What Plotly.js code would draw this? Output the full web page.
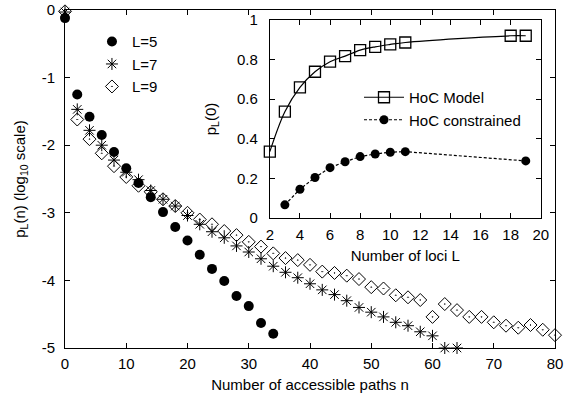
<!DOCTYPE html>
<html>
<head>
<meta charset="utf-8">
<script src="https://cdn.plot.ly/plotly-3.0.1.min.js"></script>
<style>html,body{margin:0;padding:0;background:#fff;}#chart{width:564px;height:397px;}</style>
</head>
<body>
<div id="chart"></div>
<script>
// Main plot: n (number of accessible paths) and log10 p_L(n)
const n5 = [0,2,4,6,8,10,12,14,16,18,20,22,24,26,28,30,32,34];
const p5 = [-0.12,-1.25,-1.58,-1.85,-2.10,-2.34,-2.56,-2.77,-2.99,-3.21,-3.41,-3.62,-3.83,-4.01,-4.23,-4.38,-4.63,-4.79];

const n7 = [0,2,4,6,8,10,12,14,16,18,20,22,24,26,28,30,32,34,36,38,40,42,44,46,48,50,52,54,56,58,60,62,64];
const p7 = [-0.03,-1.47,-1.78,-2.00,-2.22,-2.40,-2.51,-2.67,-2.80,-2.90,-3.04,-3.17,-3.28,-3.37,-3.49,-3.58,-3.68,-3.79,-3.88,-3.96,-4.05,-4.14,-4.21,-4.30,-4.40,-4.47,-4.54,-4.62,-4.67,-4.76,-4.82,-5.0,-5.0];

const n9 = [0,2,4,6,8,10,12,14,16,18,20,22,24,26,28,30,32,34,36,38,40,42,44,46,48,50,52,54,56,58,60,62,64,66,68,70,72,74,76,78,80];
const p9 = [-0.02,-1.62,-1.91,-2.12,-2.31,-2.47,-2.60,-2.69,-2.80,-2.90,-3.00,-3.10,-3.17,-3.27,-3.33,-3.43,-3.50,-3.60,-3.67,-3.70,-3.77,-3.87,-3.89,-3.93,-3.98,-4.10,-4.12,-4.22,-4.25,-4.29,-4.54,-4.35,-4.44,-4.54,-4.54,-4.62,-4.67,-4.70,-4.66,-4.73,-4.81];

// Inset: p_L(0) vs number of loci L
const lociModel = [2,3,4,5,6,7,8,9,10,11,18,19];
const pModel = [0.335,0.537,0.66,0.739,0.79,0.818,0.848,0.865,0.877,0.887,0.921,0.921];
const lociCons = [3,4,5,6,7,8,9,10,11,19];
const pCons = [0.066,0.145,0.204,0.254,0.284,0.31,0.323,0.332,0.335,0.288];

// Tick labels
const mainYTickVals = [-5,-4,-3,-2,-1,0];
const mainYTickText = ['-5','-4','-3','-2','-1','0'];
const insetYTickVals = [0,0.2,0.4,0.6,0.8,1];
const insetYTickText = ['0','0.2','0.4','0.6','0.8','1'];

const FONT = '"Liberation Sans", Arial, Helvetica, sans-serif';
const FS = 15;
const traces = [
  {x:n5, y:p5, name:'L=5', type:'scatter', mode:'markers', cliponaxis:false,
   marker:{symbol:'circle', size:10, color:'#000'}, xaxis:'x', yaxis:'y', legend:'legend'},
  {x:n7, y:p7, name:'L=7', type:'scatter', mode:'markers', cliponaxis:false,
   marker:{symbol:'asterisk-open', size:10, color:'#000', line:{color:'#000', width:1}}, xaxis:'x', yaxis:'y', legend:'legend'},
  {x:n9, y:p9, name:'L=9', type:'scatter', mode:'markers', cliponaxis:false,
   marker:{symbol:'diamond-open-dot', size:10, color:'#000', line:{color:'#000', width:1}}, xaxis:'x', yaxis:'y', legend:'legend'},
  {x:lociModel, y:pModel, name:'HoC Model', type:'scatter', mode:'lines+markers', cliponaxis:false,
   line:{color:'#000', width:1.2, shape:'spline'},
   marker:{symbol:'square-open', size:11, color:'#000', line:{color:'#000', width:1.3}}, xaxis:'x2', yaxis:'y2', legend:'legend2'},
  {x:lociCons, y:pCons, name:'HoC constrained', type:'scatter', mode:'lines+markers', cliponaxis:false,
   line:{color:'#000', width:1.2, dash:'3px,2px'},
   marker:{symbol:'circle', size:9, color:'#000'}, xaxis:'x2', yaxis:'y2', legend:'legend2'}
];

const axBase = {showline:true, linecolor:'#000', linewidth:1, mirror:'ticks', ticks:'inside',
  ticklen:5, tickcolor:'#000', tickwidth:1, showgrid:false, zeroline:false,
  tickfont:{family:FONT, size:FS, color:'#000'}};

const layout = {
  width:564, height:397,
  margin:{l:65, r:9, t:10, b:49},
  paper_bgcolor:'#fff', plot_bgcolor:'#fff',
  font:{family:FONT, size:FS, color:'#000'},
  xaxis: Object.assign({}, axBase, {domain:[0,1], range:[0,80], dtick:10, tick0:0, ticklabelstandoff:2,
    title:{text:'Number of accessible paths n', font:{family:FONT, size:FS}, standoff:8}}),
  yaxis: Object.assign({}, axBase, {domain:[0,1], range:[-5,0], tickvals:mainYTickVals, ticktext:mainYTickText,
    ticklabelstandoff:6,
    title:{text:'p<sub>L</sub>(n) (log<sub>10</sub> scale)', font:{family:FONT, size:FS}, standoff:12}}),
  xaxis2: Object.assign({}, axBase, {domain:[0.418,0.971], range:[2,20], dtick:2, tick0:2, anchor:'y2',
    ticklabelstandoff:3,
    title:{text:'Number of loci L', font:{family:FONT, size:FS}, standoff:8}}),
  yaxis2: Object.assign({}, axBase, {domain:[0.385,0.970], range:[0,1], tickvals:insetYTickVals, ticktext:insetYTickText,
    anchor:'x2', ticklabelstandoff:8,
    title:{text:'p<sub>L</sub>(0)', font:{family:FONT, size:FS}, standoff:16}}),
  showlegend:true,
  legend:{x:0.055, y:0.955, xanchor:'left', yanchor:'top', bgcolor:'rgba(0,0,0,0)',
    font:{family:FONT, size:FS}, tracegroupgap:0, itemwidth:30},
  legend2:{x:0.60, y:0.79, xanchor:'left', yanchor:'top', bgcolor:'rgba(0,0,0,0)',
    font:{family:FONT, size:FS}, tracegroupgap:0, itemwidth:40}
};

Plotly.newPlot('chart', traces, layout, {displayModeBar:false, staticPlot:true});
</script>
</body>
</html>
